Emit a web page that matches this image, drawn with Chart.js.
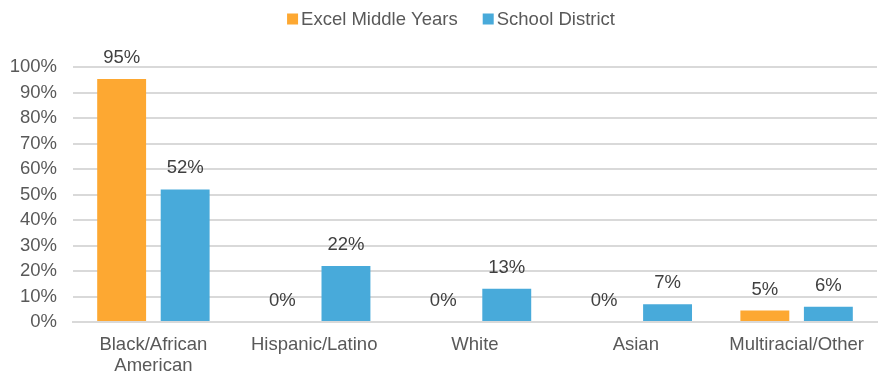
<!DOCTYPE html>
<html>
<head>
<meta charset="utf-8">
<script src="https://cdn.jsdelivr.net/npm/chart.js@4"></script>
<style>
  html, body { margin: 0; padding: 0; background: #fff; }
  #wrap { width: 882px; height: 375px; }
</style>
</head>
<body>
<div id="wrap"><canvas id="chart"></canvas></div>
<script>
const categories = [["Black/African", "American"], "Hispanic/Latino", "White", "Asian", "Multiracial/Other"];
const excelValues = [95.3, 0, 0, 0, 4.5];
const districtValues = [52, 22, 13, 7, 6];
const yTicks = [0, 10, 20, 30, 40, 50, 60, 70, 80, 90, 100];

const FONT = "'Liberation Sans', Arial, sans-serif";
const FONT_SIZE = 18.5;

// value above each bar (no datalabels plugin here)
const valueLabels = {
  id: "valueLabels",
  afterDatasetsDraw(chart) {
    const ctx = chart.ctx;
    ctx.save();
    ctx.font = FONT_SIZE + "px " + FONT;
    ctx.fillStyle = "#404040";
    ctx.textAlign = "center";
    ctx.textBaseline = "alphabetic";
    chart.data.datasets.forEach((ds, i) => {
      chart.getDatasetMeta(i).data.forEach((bar, j) => {
        ctx.fillText(Math.round(ds.data[j]) + "%", bar.x, bar.y - 16);
      });
    });
    ctx.restore();
  }
};

// legend drawn by hand so the spacing matches the Excel one
const topLegend = {
  id: "topLegend",
  afterDraw(chart) {
    const ctx = chart.ctx;
    const box = 11, gap = 3, spacing = 25;
    ctx.save();
    ctx.font = FONT_SIZE + "px " + FONT;
    ctx.textBaseline = "middle";
    ctx.textAlign = "left";
    const items = chart.data.datasets.map(ds => ({
      text: ds.label,
      color: ds.backgroundColor,
      w: box + gap + ctx.measureText(ds.label).width,
    }));
    const total = items.reduce((s, it) => s + it.w, 0) + spacing * (items.length - 1);
    let x = chart.width / 2 + 10 - total / 2;
    const y = 19;
    items.forEach(it => {
      ctx.fillStyle = it.color;
      ctx.fillRect(x, y - box / 2, box, box);
      ctx.fillStyle = "#595959";
      ctx.fillText(it.text, x + box + gap, y + 1);
      x += it.w + spacing;
    });
    ctx.restore();
  }
};

new Chart(document.getElementById("chart"), {
  type: "bar",
  data: {
    labels: categories,
    datasets: [
      {
        label: "Excel Middle Years",
        data: excelValues,
        backgroundColor: "#FDA832",
        categoryPercentage: 0.79,
        barPercentage: 0.77,
      },
      {
        label: "School District",
        data: districtValues,
        backgroundColor: "#48AADA",
        categoryPercentage: 0.79,
        barPercentage: 0.77,
      },
    ],
  },
  options: {
    responsive: true,
    maintainAspectRatio: false,
    animation: false,
    layout: { padding: { left: 0, right: 5, top: 67, bottom: 0 } },
    plugins: {
      tooltip: { enabled: false },
      legend: { display: false },
    },
    scales: {
      x: {
        grid: { display: false, drawTicks: false },
        border: { color: "#d9d9d9", width: 2 },
        ticks: {
          color: "#595959",
          padding: 12,
          maxRotation: 0,
          font: { family: FONT, size: FONT_SIZE, lineHeight: 1.14 },
        },
        afterFit(scale) { scale.height = 53; },
      },
      y: {
        min: 0,
        max: 100,
        afterBuildTicks(scale) { scale.ticks = yTicks.map(v => ({ value: v })); },
        grid: { color: "#d9d9d9", lineWidth: 2, drawTicks: false },
        border: { display: false },
        ticks: {
          color: "#595959",
          padding: 16,
          font: { family: FONT, size: FONT_SIZE },
          callback: v => v + "%",
        },
        afterFit(scale) { scale.width = 73; },
      },
    },
  },
  plugins: [valueLabels, topLegend],
});
</script>
</body>
</html>
